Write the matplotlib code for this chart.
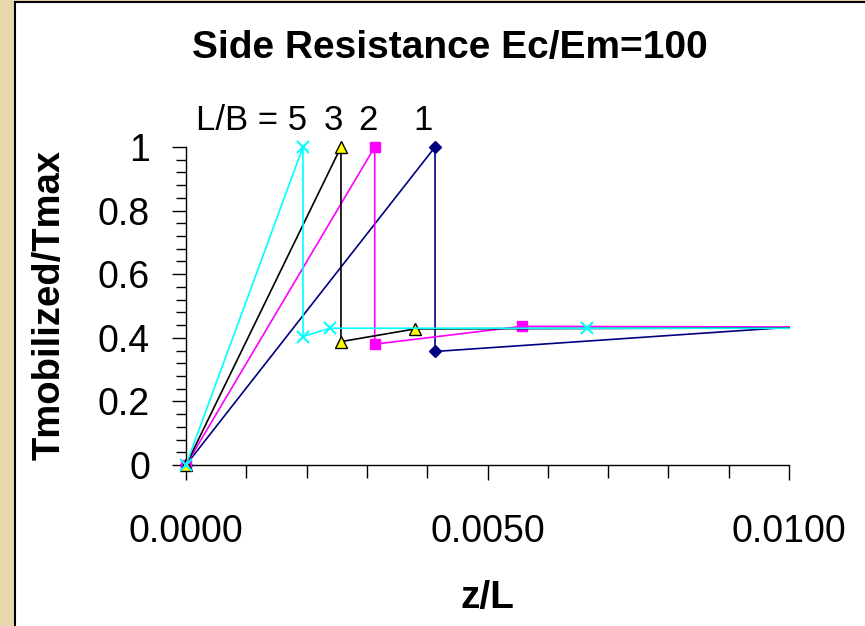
import matplotlib
matplotlib.use("Agg")
import matplotlib.pyplot as plt
from matplotlib.patches import Rectangle
from matplotlib.ticker import MultipleLocator, FixedLocator

plt.rcParams['font.family'] = ['Liberation Sans', 'DejaVu Sans']

# data
x_lb1 = [0.0, 0.00413, 0.00413, 0.0100]
y_lb1 = [0.0, 1.0, 0.357, 0.433]
x_lb2 = [0.0, 0.00313, 0.00313, 0.00557, 0.0100]
y_lb2 = [0.0, 1.0, 0.380, 0.436, 0.434]
x_lb3 = [0.0, 0.00257, 0.00257, 0.00380, 0.0100]
y_lb3 = [0.0, 1.0, 0.388, 0.428, 0.431]
x_lb5 = [0.0, 0.00194, 0.00194, 0.00239, 0.00665, 0.0100]
y_lb5 = [0.0, 1.0, 0.404, 0.430, 0.430, 0.430]

x_ticks = [0.0, 0.005, 0.01]
x_ticklabels = ["0.0000", "0.0050", "0.0100"]
y_ticks = [0, 0.2, 0.4, 0.6, 0.8, 1.0]
y_ticklabels = ["0", "0.2", "0.4", "0.6", "0.8", "1"]

fig = plt.figure(figsize=(8.65, 6.26), dpi=100)
fig.patch.set_facecolor('#E8D7AA')
panel = Rectangle((15/865, -0.1), 1.2, 1.1 - 2/626, transform=fig.transFigure,
                  facecolor='white', edgecolor='black', linewidth=1.5, zorder=-10)
fig.patches.append(panel)

ax = fig.add_axes([186/865, 1 - 465/626, (789 - 186)/865, (465 - 147)/626])
ax.set_facecolor('none')
ax.set_zorder(1)

lw = 1.2
ax.plot(x_lb1, y_lb1, color='#000080', lw=lw, marker='D', ms=6,
        markevery=[0, 1, 2], clip_on=False, zorder=3)
ax.plot(x_lb2, y_lb2, color='#FF00FF', lw=lw, marker='s', ms=7,
        markevery=[0, 1, 2, 3], clip_on=False, zorder=3.2)
ax.plot(x_lb3, y_lb3, color='black', lw=lw, marker='^', ms=8,
        markerfacecolor='#FFFF00', markeredgecolor='black', mew=1.0,
        markevery=[0, 1, 2, 3], clip_on=False, zorder=3.5)
ax.plot(x_lb5, y_lb5, color='#00FFFF', lw=lw, marker='x', ms=8, mew=1.5,
        markevery=[0, 1, 2, 3, 4], clip_on=False, zorder=3.8)

ax.set_xlim(0, 0.01)
ax.set_ylim(0, 1)
for s in ['top', 'right']:
    ax.spines[s].set_visible(False)
for s in ['left', 'bottom']:
    ax.spines[s].set_linewidth(1.0)

ax.xaxis.set_major_locator(FixedLocator(x_ticks))
ax.set_xticklabels(x_ticklabels)
ax.xaxis.set_minor_locator(MultipleLocator(0.001))
ax.yaxis.set_major_locator(FixedLocator(y_ticks))
ax.set_yticklabels(y_ticklabels)
ax.yaxis.set_minor_locator(MultipleLocator(0.04))

ax.tick_params(axis='x', which='major', direction='out', length=11, width=1, pad=24, labelsize=27)
ax.tick_params(axis='x', which='minor', direction='out', length=9, width=1)
ax.tick_params(axis='y', which='major', direction='out', length=10, width=1, pad=16, labelsize=27)
ax.tick_params(axis='y', which='minor', direction='out', length=7, width=1)

fig.text(450/865, 1 - 48/626, "Side Resistance Ec/Em=100", ha='center', va='center',
         fontsize=28, fontweight='bold')
fig.text(50/865, 1 - 305/626, "Tmobilized/Tmax", ha='center', va='center',
         rotation=90, fontsize=27.5, fontweight='bold')
fig.text(487/865, 1 - 598/626, "z/L", ha='center', va='center',
         fontsize=28, fontweight='bold')

ly = 1 - 120/626
fig.text(307/865, ly, "L/B = 5", ha='right', va='center', fontsize=25)
fig.text(333/865, ly, "3", ha='center', va='center', fontsize=25)
fig.text(368/865, ly, "2", ha='center', va='center', fontsize=25)
fig.text(423/865, ly, "1", ha='center', va='center', fontsize=25)

fig.savefig("out.png", dpi=100, facecolor=fig.get_facecolor())
